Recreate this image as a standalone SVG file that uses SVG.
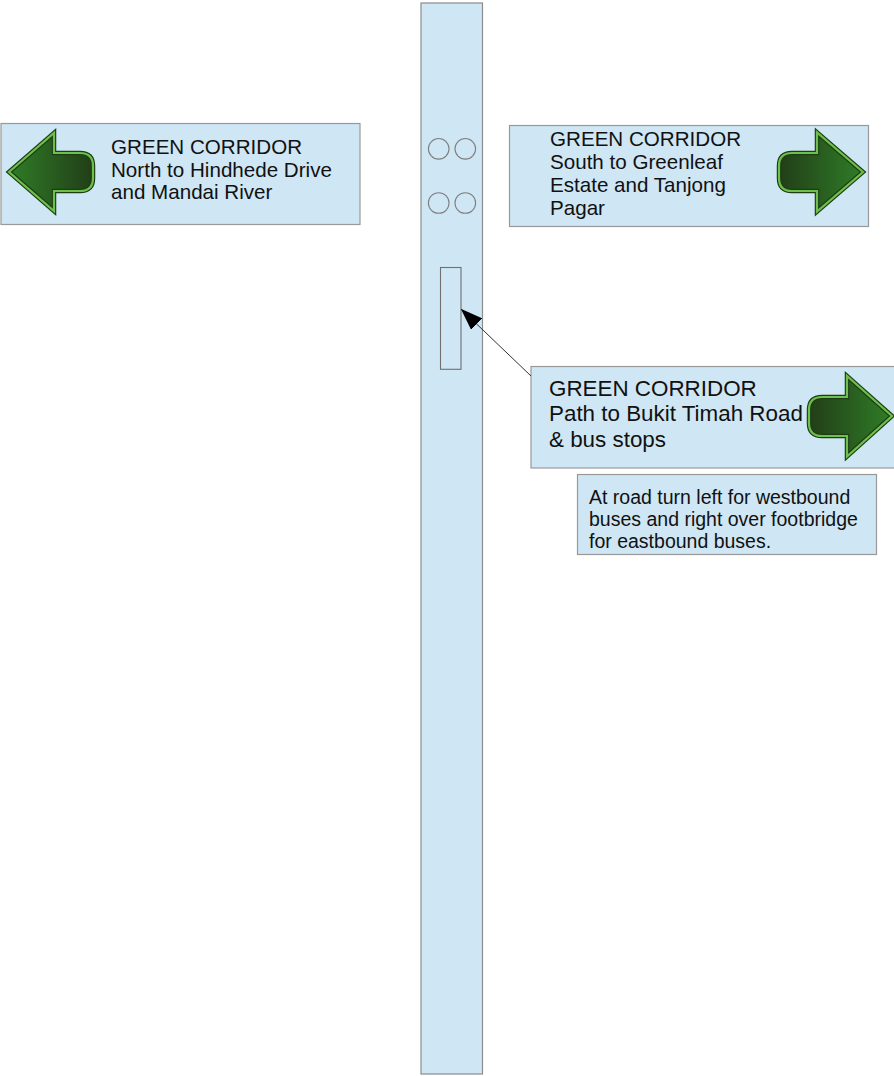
<svg xmlns="http://www.w3.org/2000/svg" width="894" height="1076" viewBox="0 0 894 1076">
<style>
.box{fill:#cfe6f4;stroke:#999;stroke-width:1.2}
.pole{fill:#cfe6f4;stroke:#8c8c8c;stroke-width:1.2}
.hole{fill:none;stroke:#7f7f7f;stroke-width:1.1}
.slot{fill:none;stroke:#707070;stroke-width:1.1}
.txt{font-family:"Liberation Sans",Arial,sans-serif;fill:#111}
.arrowOut{stroke:#1f3d14;stroke-width:4.5;stroke-linejoin:miter}
.arrowIn{fill:none;stroke:#6cc04b;stroke-width:2.2;stroke-linejoin:miter}
.conn{stroke:#333;stroke-width:1;fill:none}
</style>
<defs>
<linearGradient id="gL" x1="0" y1="0" x2="1" y2="0">
<stop offset="0" stop-color="#2f7d27"/>
<stop offset="1" stop-color="#223e18"/>
</linearGradient>
<linearGradient id="gR" x1="0" y1="0" x2="1" y2="0">
<stop offset="0" stop-color="#223e18"/>
<stop offset="1" stop-color="#2f7d27"/>
</linearGradient>
<marker id="ah" markerUnits="userSpaceOnUse" viewBox="0 0 22 16" refX="21" refY="8" markerWidth="22" markerHeight="16" orient="auto">
<path d="M0,0 L22,8 L0,16 Z" fill="#000"/>
</marker>
</defs>

<g id="pole">
<rect class="pole" x="421" y="3" width="61.5" height="1071"/>
<circle class="hole" cx="438.7" cy="148.8" r="10.3"/>
<circle class="hole" cx="465.3" cy="148.8" r="10.3"/>
<circle class="hole" cx="438.7" cy="203" r="10.3"/>
<circle class="hole" cx="465.3" cy="203" r="10.3"/>
<rect class="slot" x="440.5" y="267.5" width="20.5" height="101.8"/>
</g>

<g id="sign-north">
<rect class="box" x="1" y="123.5" width="359" height="101"/>
<path class="arrowOut" fill="url(#gL)" d="M9,172 L54,133 L54,153 L80,153 Q93,153 93,166 L93,178 Q93,191 80,191 L54,191 L54,211 Z"/>
<path class="arrowIn" d="M9,172 L54,133 L54,153 L80,153 Q93,153 93,166 L93,178 Q93,191 80,191 L54,191 L54,211 Z"/>
<text class="txt" font-size="20.6"><tspan x="111" y="154">GREEN CORRIDOR</tspan><tspan x="111" y="176.5">North to Hindhede Drive</tspan><tspan x="111" y="199">and Mandai River</tspan></text>
</g>

<g id="sign-south">
<rect class="box" x="509.5" y="125.5" width="359" height="101"/>
<path class="arrowOut" fill="url(#gR)" d="M863,172 L817,132.5 L817,153 L792,153 Q779,153 779,166 L779,178 Q779,191 792,191 L817,191 L817,211.5 Z"/>
<path class="arrowIn" d="M863,172 L817,132.5 L817,153 L792,153 Q779,153 779,166 L779,178 Q779,191 792,191 L817,191 L817,211.5 Z"/>
<text class="txt" font-size="20.6"><tspan x="550" y="145.5">GREEN CORRIDOR</tspan><tspan x="550" y="168.5">South to Greenleaf</tspan><tspan x="550" y="191.5">Estate and Tanjong</tspan><tspan x="550" y="214.5">Pagar</tspan></text>
</g>

<g id="sign-bukit-timah">
<rect class="box" x="531" y="366.5" width="366" height="101.5"/>
<path class="arrowOut" fill="url(#gR)" d="M892,416 L847,376 L847,397 L822,397 Q809,397 809,410 L809,423 Q809,436 822,436 L847,436 L847,456.5 Z"/>
<path class="arrowIn" d="M892,416 L847,376 L847,397 L822,397 Q809,397 809,410 L809,423 Q809,436 822,436 L847,436 L847,456.5 Z"/>
<text class="txt" font-size="22.4"><tspan x="549" y="395.5">GREEN CORRIDOR</tspan><tspan x="549" y="421">Path to Bukit Timah Road</tspan><tspan x="549" y="446.5">&amp; bus stops</tspan></text>
</g>

<g id="note">
<rect class="box" x="577.5" y="474.5" width="299" height="80"/>
<text class="txt" font-size="19.5"><tspan x="589" y="504">At road turn left for westbound</tspan><tspan x="589" y="526">buses and right over footbridge</tspan><tspan x="589" y="548">for eastbound buses.</tspan></text>
</g>

<g id="connectors">
<line class="conn" x1="531" y1="376" x2="461.5" y2="309.5" marker-end="url(#ah)"/>
</g>
</svg>
